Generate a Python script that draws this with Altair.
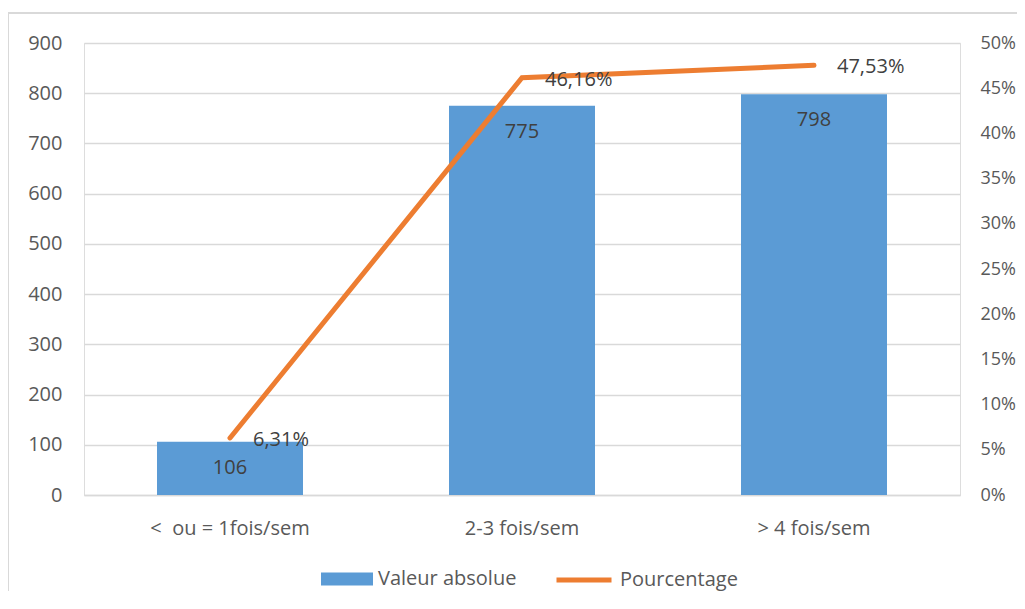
import altair as alt
import pandas as pd

categories = ["<\u00a0 ou = 1fois/sem", "2-3 fois/sem", "> 4 fois/sem"]
valeurs = [106, 775, 798]
pourcentages = [6.31, 46.16, 47.53]
left_ticks = [0, 100, 200, 300, 400, 500, 600, 700, 800, 900]
right_ticks = [0, 5, 10, 15, 20, 25, 30, 35, 40, 45, 50]

df = pd.DataFrame({"cat": categories, "val": valeurs, "pct": pourcentages})

FONT = "Open Sans"
FS = 20
GRAY = "#595959"
TXT = "#404040"
BLUE = "#5B9BD5"
ORANGE = "#ED7D31"
GRID = "#D9D9D9"

xenc = alt.X("cat:N", sort=categories, title=None,
             scale=alt.Scale(paddingInner=0.5, paddingOuter=0.25),
             axis=alt.Axis(labelAngle=0, ticks=False, domain=True, domainColor=GRID,
                           domainWidth=1.3, labelPadding=23, labelFontSize=FS,
                           labelColor=GRAY, labelFont=FONT))

base = alt.Chart(df)

border = alt.Chart(pd.DataFrame({"a": [0]})).mark_rect(
    fill=None, stroke=GRID, strokeWidth=2
).encode(x=alt.value(-76), x2=alt.value(960), y=alt.value(-30), y2=alt.value(600))

bars = base.transform_calculate(series="'Valeur absolue'").mark_bar(size=146).encode(
    x=xenc,
    y=alt.Y("val:Q", title=None, scale=alt.Scale(domain=[0, 900], nice=False),
            axis=alt.Axis(values=left_ticks, grid=True, gridColor=GRID, gridWidth=1.3,
                          domain=False, ticks=False, labelPadding=22, labelFontSize=FS,
                          labelColor=GRAY, labelFont=FONT)),
    color=alt.Color("series:N", scale=alt.Scale(domain=["Valeur absolue"], range=[BLUE]),
                    legend=alt.Legend(title=None, orient="none", legendX=237, legendY=510,
                                      symbolType="M-1,-0.25H1V0.25H-1Z", symbolSize=2704,
                                      symbolStrokeWidth=0, symbolOpacity=1,
                                      labelFontSize=FS, labelColor=GRAY, labelFont=FONT,
                                      labelOffset=5, labelLimit=300, padding=0)),
)

bar_text = base.mark_text(baseline="middle", dy=26, fontSize=FS, color=TXT, font=FONT).encode(
    x=alt.X("cat:N", sort=categories),
    y=alt.Y("val:Q"),
    text=alt.Text("val:Q"),
)

left = alt.layer(border, bars, bar_text)

line = base.transform_calculate(series2="'Pourcentage'").mark_line(
    strokeWidth=5, strokeCap="round"
).encode(
    x=alt.X("cat:N", sort=categories),
    y=alt.Y("pct:Q", title=None, scale=alt.Scale(domain=[0, 50], nice=False),
            axis=alt.Axis(orient="right", values=right_ticks, grid=False, domain=False,
                          ticks=False, labelPadding=20, labelFontSize=18, labelColor=GRAY,
                          labelFont=FONT, labelExpr="datum.value + '%'")),
    stroke=alt.Stroke("series2:N", scale=alt.Scale(domain=["Pourcentage"], range=[ORANGE]),
                      legend=alt.Legend(title=None, orient="none", legendX=470, legendY=507,
                                        symbolType="stroke", symbolSize=3025,
                                        symbolStrokeWidth=5, labelFontSize=FS,
                                        labelColor=GRAY, labelFont=FONT, labelOffset=6,
                                        labelLimit=300, padding=0)),
)

line_text = base.transform_calculate(
    lab="replace(format(datum.pct, '.2f'), '.', ',') + '%'"
).mark_text(align="left", baseline="middle", dx=23, dy=2, fontSize=FS, color=TXT, font=FONT).encode(
    x=alt.X("cat:N", sort=categories),
    y=alt.Y("pct:Q"),
    text="lab:N",
)

right = alt.layer(line, line_text)

chart = alt.layer(left, right).resolve_scale(y="independent", color="independent").properties(
    width=876, height=452,
    autosize=alt.AutoSizeParams(type="none"),
    padding={"left": 76, "top": 35, "right": 57, "bottom": 96},
).configure_view(stroke=None).configure(background="white")

chart.save("out.html", embed_options={"renderer": "svg", "actions": False})
